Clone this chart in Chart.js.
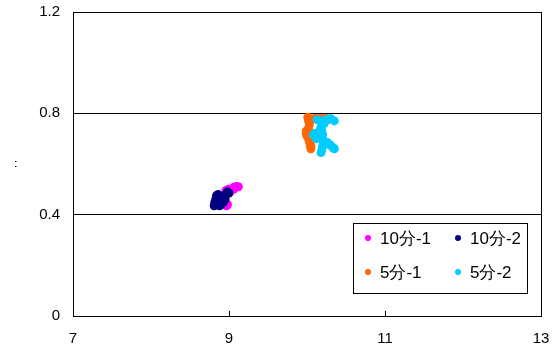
<!DOCTYPE html>
<html>
<head>
<meta charset="utf-8">
<script src="https://cdn.jsdelivr.net/npm/chart.js@4"></script>
<style>
  body { margin: 0; background: #fff; }
</style>
</head>
<body>
<canvas id="scatterChart" width="560" height="356"></canvas>
<script>
var seriesNames = ["10分-1", "10分-2", "5分-1", "5分-2"];
var seriesColors = ["#ff00ff", "#000080", "#ff6600", "#00ccff"];

var x10a = [8.96, 8.99, 9.02, 9.05, 9.08, 9.1, 9.12, 9.0, 8.97, 8.98, 9.06];
var y10a = [0.495, 0.5, 0.5, 0.505, 0.51, 0.51, 0.51, 0.49, 0.435, 0.44, 0.5];

var x10b = [8.81, 8.82, 8.83, 8.84, 8.86, 8.88, 8.9, 8.92, 8.94, 8.96, 8.98, 9.0, 8.85, 8.88, 8.9, 8.93, 8.95, 8.82, 8.86];
var y10b = [0.435, 0.445, 0.46, 0.475, 0.48, 0.47, 0.46, 0.455, 0.47, 0.48, 0.49, 0.485, 0.44, 0.435, 0.44, 0.45, 0.46, 0.45, 0.455];

var x5a = [10.01, 10.02, 10.03, 10.02, 9.99, 9.99, 10.0, 10.02, 10.03, 10.04, 10.05, 10.05, 10.04, 10.03, 10.15, 10.2, 10.25, 10.27, 10.1, 10.02];
var y5a = [0.785, 0.77, 0.755, 0.74, 0.73, 0.72, 0.71, 0.7, 0.69, 0.68, 0.67, 0.66, 0.675, 0.765, 0.78, 0.78, 0.78, 0.775, 0.78, 0.72];

var x5b = [10.13, 10.17, 10.21, 10.25, 10.3, 10.35, 10.18, 10.19, 10.2, 10.2, 10.21, 10.2, 10.19, 10.18, 10.08, 10.1, 10.12, 10.25, 10.3, 10.33, 10.35, 10.22, 10.16, 10.26];
var y5b = [0.775, 0.77, 0.77, 0.775, 0.78, 0.77, 0.745, 0.73, 0.715, 0.7, 0.685, 0.67, 0.655, 0.645, 0.715, 0.72, 0.7, 0.68, 0.675, 0.665, 0.66, 0.76, 0.73, 0.685];

var xTicks = [7, 9, 11, 13];
var yTicks = [0, 0.4, 0.8, 1.2];

function toPoints(xs, ys) {
  var pts = [];
  for (let i = 0; i < xs.length; i++) {
    pts.push({ x: xs[i], y: ys[i] });
  }
  return pts;
}

var allX = [x10a, x10b, x5a, x5b];
var allY = [y10a, y10b, y5a, y5b];
var datasets = [];
for (let i = 0; i < seriesNames.length; i++) {
  datasets.push({
    label: seriesNames[i],
    data: toPoints(allX[i], allY[i]),
    backgroundColor: seriesColors[i],
    borderColor: seriesColors[i],
    borderWidth: 0,
    pointRadius: 4.5,
    pointHoverRadius: 4.5,
    order: seriesNames.length - i, // later series painted on top
  });
}

// frame, inward x ticks and the boxed legend inside the plot
var framePlugin = {
  id: "frame",
  afterDraw: function(chart) {
    var ctx = chart.ctx;
    var a = chart.chartArea;
    var xs = chart.scales.x;
    ctx.save();
    ctx.strokeStyle = "#000";
    ctx.lineWidth = 1;
    ctx.strokeRect(Math.round(a.left) + 0.5, Math.round(a.top) + 0.5,
      Math.round(a.right - a.left), Math.round(a.bottom - a.top));
    for (let i = 1; i < xTicks.length - 1; i++) {
      var px = Math.round(xs.getPixelForValue(xTicks[i])) + 0.5;
      ctx.beginPath();
      ctx.moveTo(px, a.bottom);
      ctx.lineTo(px, a.bottom - 5);
      ctx.stroke();
    }
    var bx = Math.round(a.left) + 280, by = Math.round(a.top) + 211, bw = 174, bh = 70;
    ctx.fillStyle = "#fff";
    ctx.fillRect(bx, by, bw, bh);
    ctx.strokeRect(bx + 0.5, by + 0.5, bw, bh);
    ctx.font = "17px 'Liberation Sans', Arial, sans-serif";
    ctx.textBaseline = "middle";
    for (let i = 0; i < seriesNames.length; i++) {
      var col = i % 2, row = Math.floor(i / 2);
      var ix = bx + 15 + col * 90;
      var iy = by + 15 + row * 34;
      ctx.fillStyle = seriesColors[i];
      ctx.beginPath();
      ctx.arc(ix, iy, 3, 0, Math.PI * 2);
      ctx.fill();
      ctx.fillStyle = "#000";
      ctx.fillText(seriesNames[i], ix + 12, iy + 1);
    }
    ctx.restore();
  },
};

const configScatter = {
  type: "scatter",
  data: { datasets: datasets },
  options: {
    responsive: false,
    animation: false,
    layout: { padding: { top: 12, right: 19, left: 0, bottom: 0 } },
    plugins: {
      legend: { display: false },
      tooltip: { enabled: false },
    },
    scales: {
      x: {
        min: 7,
        max: 13,
        afterBuildTicks: function(scale) {
          scale.ticks = xTicks.map(function(v) { return { value: v }; });
        },
        grid: { display: false, drawTicks: false },
        border: { display: true, color: "#000" },
        ticks: {
          padding: 14,
          color: "#000",
          font: { size: 15, family: "'Liberation Sans', Arial, sans-serif" },
        },
        afterFit: function(scale) {
          scale.height = 40;
          scale.paddingLeft = 0;
          scale.paddingRight = 0;
        },
      },
      y: {
        min: 0,
        max: 1.2,
        afterBuildTicks: function(scale) {
          scale.ticks = yTicks.map(function(v) { return { value: v }; });
        },
        grid: { color: "#000", drawTicks: false },
        border: { display: true, color: "#000" },
        title: {
          display: true,
          text: ", ,",
          color: "#000",
          padding: { top: 8, bottom: 0 },
          font: { size: 9, family: "'Liberation Sans', Arial, sans-serif" },
        },
        ticks: {
          padding: 13,
          color: "#000",
          font: { size: 15, family: "'Liberation Sans', Arial, sans-serif" },
          callback: function(v) { return v === 0 ? "0" : v.toFixed(1); },
        },
        afterFit: function(scale) {
          scale.width = 73;
          scale.paddingTop = 0;
          scale.paddingBottom = 0;
        },
      },
    },
  },
  plugins: [framePlugin],
};

var scatterChart = new Chart(document.getElementById("scatterChart"), configScatter);
</script>
</body>
</html>
